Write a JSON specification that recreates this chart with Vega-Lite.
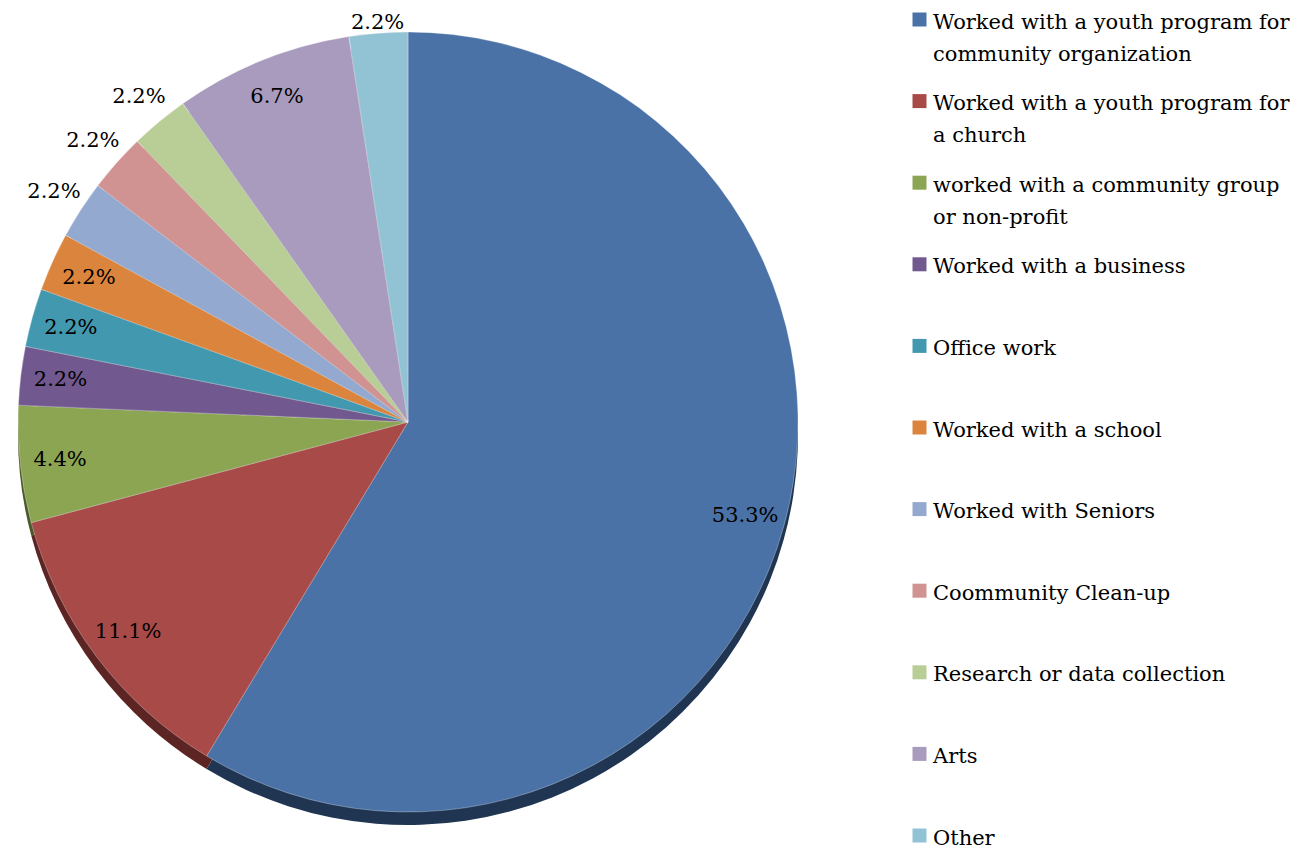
{
  "$schema": "https://vega.github.io/schema/vega-lite/v6.json",
  "width": 816,
  "height": 844,
  "padding": 0,
  "background": "white",
  "data": {
    "values": [
      {"rank": 1, "category": "Worked with a youth program for community organization", "pct": 53.3},
      {"rank": 2, "category": "Worked with a youth program for a church", "pct": 11.1},
      {"rank": 3, "category": "worked with a community group or non-profit", "pct": 4.4},
      {"rank": 4, "category": "Worked with a business", "pct": 2.2},
      {"rank": 5, "category": "Office work", "pct": 2.2},
      {"rank": 6, "category": "Worked with a school", "pct": 2.2},
      {"rank": 7, "category": "Worked with Seniors", "pct": 2.2},
      {"rank": 8, "category": "Coommunity Clean-up", "pct": 2.2},
      {"rank": 9, "category": "Research or data collection", "pct": 2.2},
      {"rank": 10, "category": "Arts", "pct": 6.7},
      {"rank": 11, "category": "Other", "pct": 2.2}
    ]
  },
  "transform": [{"calculate": "format(datum.pct, '.1f') + '%'", "as": "label"}],
  "layer": [
    {
      "mark": {"type": "arc", "outerRadius": 390, "yOffset": 13},
      "encoding": {
        "theta": {"field": "pct", "type": "quantitative", "stack": true},
        "order": {"field": "rank", "type": "quantitative"},
        "color": {
          "field": "category",
          "type": "nominal",
          "legend": null,
          "scale": {
            "domain": ["Worked with a youth program for community organization", "Worked with a youth program for a church", "worked with a community group or non-profit", "Worked with a business", "Office work", "Worked with a school", "Worked with Seniors", "Coommunity Clean-up", "Research or data collection", "Arts", "Other"],
            "range": ["#1F3552", "#5C2524", "#4A5A28", "#3D2F4E", "#215262", "#7A4620", "#4E5C72", "#74504F", "#66714F", "#5C5468", "#4F6B74"]
          }
        }
      }
    },
    {
      "mark": {"type": "arc", "outerRadius": 390, "stroke": "#ffffff", "strokeWidth": 0.6, "strokeOpacity": 0.5},
      "encoding": {
        "theta": {"field": "pct", "type": "quantitative", "stack": true},
        "order": {"field": "rank", "type": "quantitative"},
        "color": {
          "field": "category",
          "type": "nominal",
          "scale": {
            "domain": ["Worked with a youth program for community organization", "Worked with a youth program for a church", "worked with a community group or non-profit", "Worked with a business", "Office work", "Worked with a school", "Worked with Seniors", "Coommunity Clean-up", "Research or data collection", "Arts", "Other"],
            "range": ["#4A72A6", "#A74A48", "#8CA553", "#71588F", "#4198AF", "#DB843D", "#93A9CF", "#D19392", "#B9CD96", "#A99BBD", "#92C3D4"]
          },
          "legend": {
            "title": null,
            "orient": "none",
            "legendX": 909,
            "legendY": 9,
            "padding": 0,
            "symbolType": "square",
            "symbolSize": 196,
            "symbolStrokeWidth": 0,
            "symbolOffset": 0,
            "labelFont": "DejaVu Serif",
            "labelFontSize": 21,
            "labelColor": "#000000",
            "labelOffset": 3,
            "labelLimit": 500,
            "labelBaseline": "top",
            "gridAlign": "all",
            "rowPadding": 25.6,
            "labelExpr": "datum.label == 'Worked with a youth program for community organization' ? ['Worked with a youth program for', 'community organization'] : datum.label == 'Worked with a youth program for a church' ? ['Worked with a youth program for', 'a church'] : datum.label == 'worked with a community group or non-profit' ? ['worked with a community group', 'or non-profit'] : datum.label"
          }
        }
      }
    },
    {
      "mark": {
        "type": "text",
        "font": "DejaVu Serif",
        "fontSize": 21,
        "color": "#000000",
        "radius": {"expr": "datum.category == 'Other' ? 400 : (datum.category == 'Worked with Seniors' || datum.category == 'Coommunity Clean-up' || datum.category == 'Research or data collection') ? 422 : 350"}
      },
      "encoding": {
        "theta": {"field": "pct", "type": "quantitative", "stack": true},
        "order": {"field": "rank", "type": "quantitative"},
        "text": {"field": "label", "type": "nominal"}
      }
    }
  ],
  "resolve": {"scale": {"color": "independent"}},
  "config": {
    "view": {"stroke": null},
    "style": {"guide-label": {"lineHeight": 32, "dy": -8}}
  }
}
